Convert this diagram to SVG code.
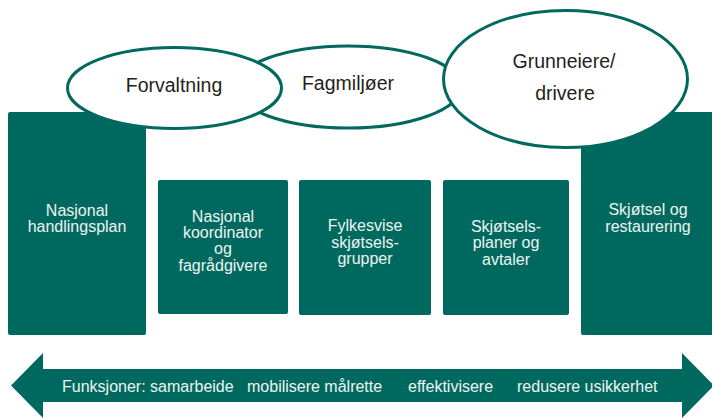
<svg xmlns="http://www.w3.org/2000/svg" width="712" height="419" viewBox="0 0 712 419">
  <style>
    .box { fill: #00695F; }
    .oval { fill: #FFFFFF; stroke: #00695F; stroke-width: 3; }
    .lt { font-family: "Liberation Sans", Arial, sans-serif; font-size: 16px; fill: #EEF4F2; text-anchor: middle; }
    .dk { font-family: "Liberation Sans", Arial, sans-serif; font-size: 19.5px; fill: #231F20; text-anchor: middle; }
    .ar { font-family: "Liberation Sans", Arial, sans-serif; font-size: 16px; fill: #EEF4F2; }
  </style>
  <rect width="712" height="419" fill="#FFFFFF"/>

  <g id="nasjonal-handlingsplan">
    <rect class="box" x="8" y="112" width="138" height="223" rx="2"/>
    <text class="lt" x="77" y="216">Nasjonal</text>
    <text class="lt" x="77" y="232">handlingsplan</text>
  </g>

  <g id="skjotsel-restaurering">
    <rect class="box" x="581" y="112" width="135" height="223" rx="2"/>
    <text class="lt" x="648" y="215">Skjøtsel og</text>
    <text class="lt" x="648" y="232">restaurering</text>
  </g>

  <g id="nasjonal-koordinator">
    <rect class="box" x="158" y="180" width="130" height="134" rx="2"/>
    <text class="lt" x="223" y="222">Nasjonal</text>
    <text class="lt" x="223" y="238">koordinator</text>
    <text class="lt" x="223" y="254">og</text>
    <text class="lt" x="223" y="271">fagrådgivere</text>
  </g>

  <g id="fylkesvise-grupper">
    <rect class="box" x="299" y="180" width="132" height="135" rx="2"/>
    <text class="lt" x="365" y="231">Fylkesvise</text>
    <text class="lt" x="365" y="248">skjøtsels-</text>
    <text class="lt" x="365" y="264">grupper</text>
  </g>

  <g id="skjotselsplaner">
    <rect class="box" x="443" y="180" width="126" height="135" rx="2"/>
    <text class="lt" x="506" y="232">Skjøtsels-</text>
    <text class="lt" x="506" y="248">planer og</text>
    <text class="lt" x="506" y="265">avtaler</text>
  </g>

  <g id="fagmiljoer">
    <ellipse class="oval" cx="348" cy="87" rx="113" ry="41"/>
    <text class="dk" x="348" y="90">Fagmiljøer</text>
  </g>

  <g id="forvaltning">
    <ellipse class="oval" cx="174.5" cy="88" rx="107" ry="40.5"/>
    <text class="dk" x="174" y="92">Forvaltning</text>
  </g>

  <g id="grunneiere">
    <ellipse class="oval" cx="565.5" cy="79" rx="122" ry="68.5"/>
    <text class="dk" x="564" y="68">Grunneiere/</text>
    <text class="dk" x="565" y="100">drivere</text>
  </g>

  <g id="funksjoner">
    <polygon class="box" points="11,385.5 43,353 43,369 682,369 682,353 714,385.5 682,418 682,402 43,402 43,418"/>
    <text class="ar" x="62" y="392">Funksjoner: samarbeide</text>
    <text class="ar" x="247" y="392">mobilisere målrette</text>
    <text class="ar" x="408" y="392">effektivisere</text>
    <text class="ar" x="517" y="392">redusere usikkerhet</text>
  </g>
</svg>
